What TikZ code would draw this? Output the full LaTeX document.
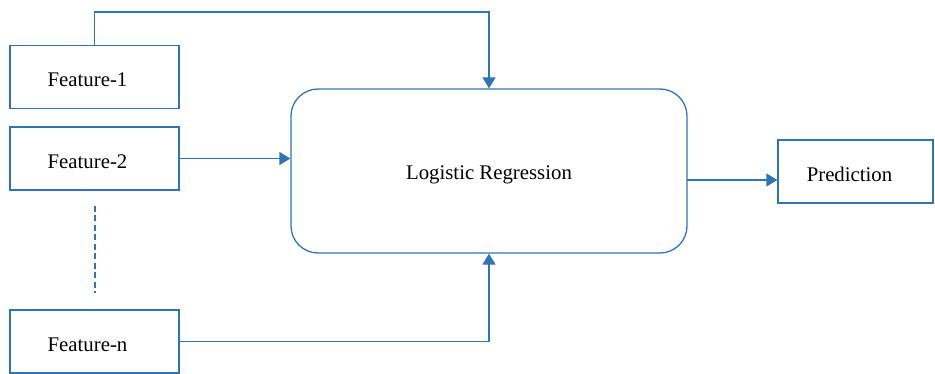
\documentclass[tikz,border=0pt]{standalone}
\usepackage{fontspec}
\setmainfont{Liberation Serif}
\usetikzlibrary{arrows.meta}
\definecolor{lineblue}{HTML}{2E75B6}
\newcommand{\lowtext}[2]{\raisebox{-#1}[0pt][0pt]{#2}}
\begin{document}
\begin{tikzpicture}[x=1pt,y=-1pt,
  box/.style={draw=lineblue, line width=1.3pt, minimum width=169pt, minimum height=63pt, inner sep=0pt, font=\fontsize{20.8}{24}\selectfont},
  conn/.style={draw=lineblue, line width=1.3pt, -{Triangle[length=11pt,width=13pt]}},
  plain/.style={draw=lineblue, line width=1.3pt}]
\useasboundingbox (0,0) rectangle (935,374);
\node[box] (f1) at (94.5,77) {\hspace*{-14pt}\lowtext{9.7pt}{Feature-1}};
\node[box] (f2) at (94.5,158.5) {\hspace*{-14pt}\lowtext{9.7pt}{Feature-2}};
\node[box] (fn) at (94.5,341.5) {\hspace*{-14pt}\lowtext{9.7pt}{Feature-n}};
\node[box, rounded corners=27pt, minimum width=396pt, minimum height=164pt] (lr) at (489,171) {\lowtext{9pt}{Logistic Regression}};
\node[box, minimum width=155pt] (pred) at (855.5,171.5) {\hspace*{-12pt}\lowtext{10pt}{Prediction}};
\coordinate (t1) at (489,12);
\coordinate (o) at (687,180);
\coordinate (d1) at (95,206);
\coordinate (d2) at (95,293);
\draw[conn] (f1.north) |- (t1) -- (lr.north);
\draw[conn] (f2.east) -- (lr.west |- f2.east);
\draw[conn] (fn.east) -| (lr.south);
\draw[conn] (o) -- (pred.west |- o);
\draw[plain, dash pattern=on 6pt off 3.5pt] (d1) -- (d2);
\end{tikzpicture}
\end{document}
